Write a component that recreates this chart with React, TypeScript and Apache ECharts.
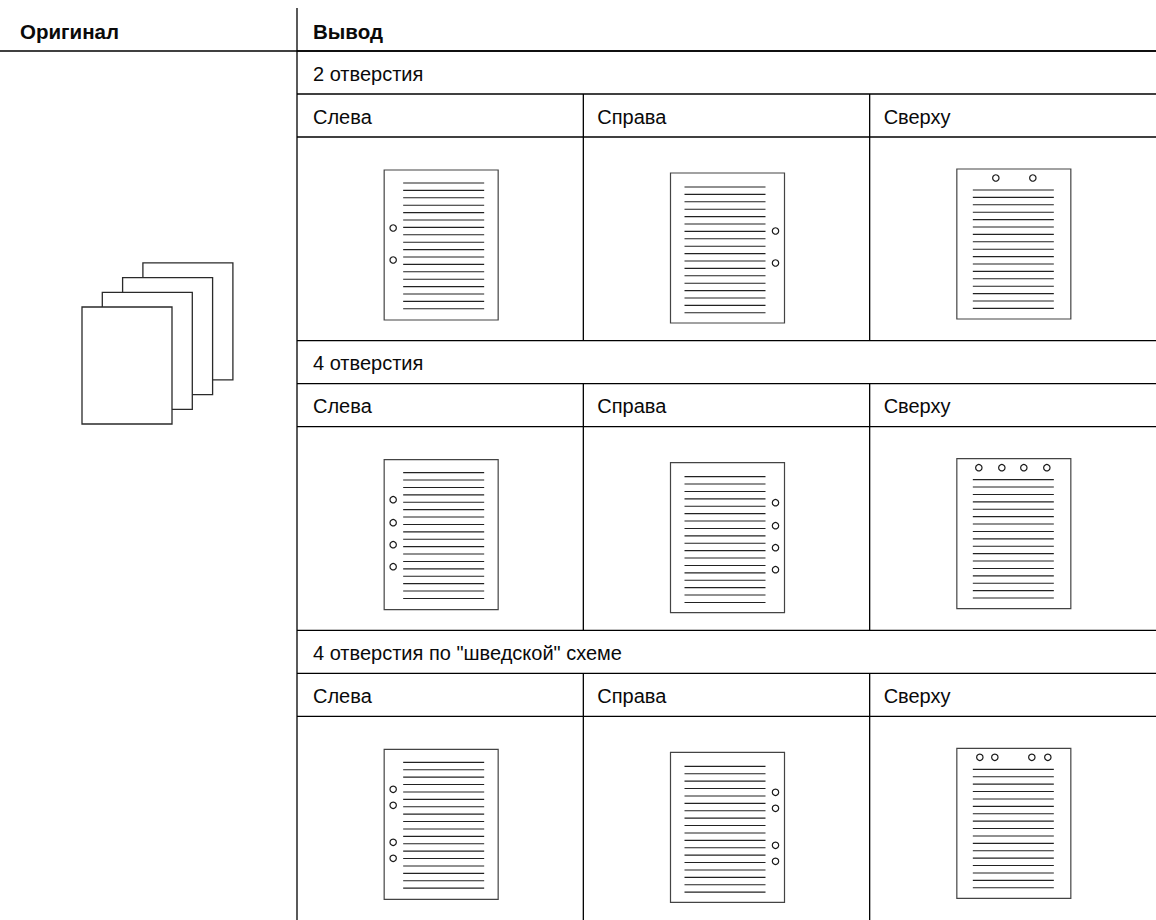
import React, { useEffect, useRef } from "react";
import * as echarts from "echarts";

// ---- content ----
const headers = ["Оригинал", "Вывод"];
const columns = ["Слева", "Справа", "Сверху"];
const sections = ["2 отверстия", "4 отверстия", '4 отверстия по "шведской" схеме'];
// hole positions along the punched edge of each output page (per section)
const sideHoles = [
  [58, 90],
  [40, 63, 85, 107],
  [40, 56, 93, 109],
];
const topHoles = [
  [39, 76],
  [22, 45, 67, 90],
  [23, 38, 75, 91],
];
const stackSheets = 4;
const cells: number[][] = [];
sections.forEach((_, s) => columns.forEach((_, c) => cells.push([c, s])));

// ---- styling / layout ----
const FONT = "'Liberation Sans', Arial, Helvetica, sans-serif";
const FS = 20;
const INK = "#000";
const TABLE_LW = 1.3;
const PAGE_W = 114;
const PAGE_H = 150;
const GAP = 7.4;
const ROW_H = 43;

function ln(x1: number, y1: number, x2: number, y2: number, stroke = INK, lw = TABLE_LW) {
  return { type: "line", shape: { x1, y1, x2, y2 }, style: { stroke, lineWidth: lw }, silent: true };
}
function tx(x: number, y: number, text: string, bold = false) {
  return {
    type: "text",
    silent: true,
    style: {
      text,
      x,
      y,
      fill: "#0a0a0a",
      fontSize: bold ? 20.5 : FS,
      fontFamily: FONT,
      fontWeight: bold ? "bold" : "normal",
      align: "left",
      verticalAlign: "middle",
    },
  };
}

function renderCell(params: any, api: any) {
  const c = api.value(0);
  const s = api.value(1);
  const [cx, cy] = api.coord([c, s]);
  const [bw, bh] = api.size([1, 1]);
  const left = cx - bw / 2;
  const top = cy - bh / 2;
  const cs = params.coordSys;
  const children: any[] = [];

  if (c === 0) {
    children.push(ln(cs.x, top, cs.x + cs.width, top));
    children.push(tx(left + 16, top + ROW_H / 2 + 1, sections[s]));
    children.push(ln(cs.x, top + ROW_H, cs.x + cs.width, top + ROW_H));
  }
  children.push(tx(left + (c === 0 ? 16 : 14), top + ROW_H * 1.5 + 1, columns[c]));
  children.push(ln(left, top + ROW_H * 2, left + bw, top + ROW_H * 2));
  if (c > 0) children.push(ln(left, top + ROW_H, left, top + bh));

  // output page
  const imgTop = top + ROW_H * 2;
  const px = cx - 56;
  const py = imgTop + (c === 1 ? 36 : c === 0 ? 33 : 32);
  children.push({
    type: "rect",
    silent: true,
    shape: { x: px, y: py, width: PAGE_W, height: PAGE_H },
    style: { fill: "#fff", stroke: "#444", lineWidth: 1.2 },
  });
  let lx1: number, lx2: number, ly0: number, n: number;
  if (c === 0) {
    lx1 = px + 19; lx2 = px + 100; ly0 = py + 13; n = 18;
  } else if (c === 1) {
    lx1 = px + 14; lx2 = px + 95; ly0 = py + 14; n = 18;
  } else {
    lx1 = px + 16; lx2 = px + 97; ly0 = py + 21; n = 17;
  }
  for (let i = 0; i < n; i++) {
    const y = ly0 + i * GAP;
    children.push(ln(lx1, y, lx2, y, "#222", 1.1));
  }
  const holeStyle = { fill: "#fff", stroke: "#1a1a1a", lineWidth: 1.2 };
  if (c === 2) {
    topHoles[s].forEach((o) =>
      children.push({ type: "circle", silent: true, shape: { cx: px + o, cy: py + 9, r: 3.2 }, style: holeStyle })
    );
  } else {
    const hx = c === 0 ? px + 9 : px + 105;
    sideHoles[s].forEach((o) =>
      children.push({ type: "circle", silent: true, shape: { cx: hx, cy: py + o, r: 3.2 }, style: holeStyle })
    );
  }
  return { type: "group", children };
}

export default function App() {
  const ref = useRef<HTMLDivElement>(null);
  useEffect(() => {
    if (!ref.current) return;
    const chart = echarts.init(ref.current, null, { renderer: "svg" });

    const graphics: any[] = [
      ln(297, 8, 297, 920),
      ln(0, 51, 1156, 51),
      tx(20, 31, headers[0], true),
      tx(313, 31, headers[1], true),
    ];
    // stack of original sheets, back to front
    for (let i = 0; i < stackSheets; i++) {
      const k = stackSheets - 1 - i;
      graphics.push({
        type: "rect",
        silent: true,
        shape: { x: 82 + k * 20.3, y: 307 - k * 14.7, width: 90, height: 117 },
        style: { fill: "#fff", stroke: "#2a2a2a", lineWidth: 1.3 },
      });
    }

    chart.setOption({
      animation: false,
      backgroundColor: "#fff",
      grid: { left: 297, top: 51, width: 859, height: 873 },
      xAxis: { type: "category", data: columns, show: false },
      yAxis: { type: "category", data: sections, inverse: true, show: false },
      graphic: { elements: graphics },
      series: [
        {
          type: "custom",
          silent: true,
          clip: false,
          renderItem: renderCell,
          data: cells,
        },
      ],
    });
    return () => chart.dispose();
  }, []);
  return (
    <div
      ref={ref}
      style={{ position: "fixed", left: 0, top: 0, width: 1156, height: 920, background: "#fff" }}
    />
  );
}
